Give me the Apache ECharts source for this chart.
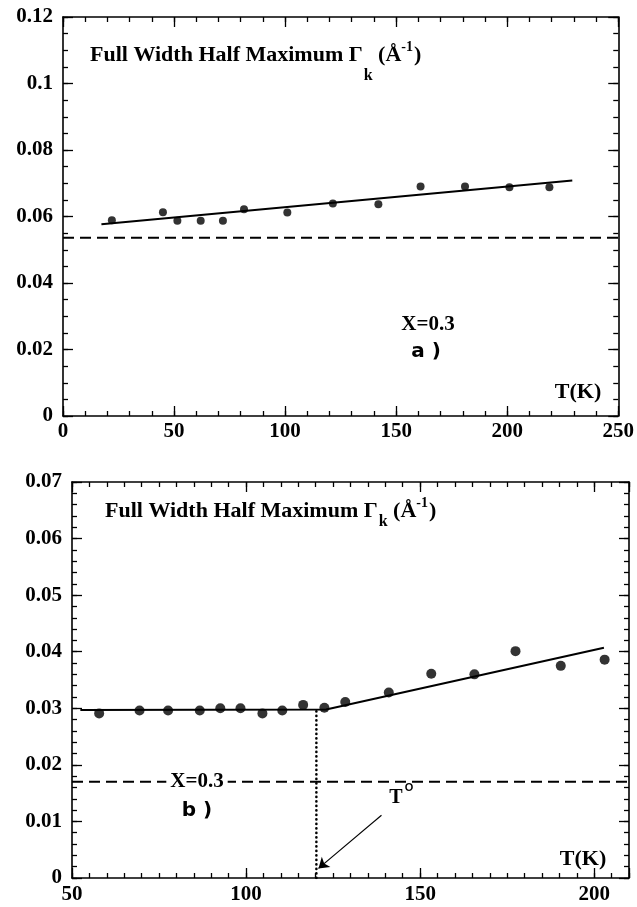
<!DOCTYPE html>
<html>
<head>
<meta charset="utf-8">
<script src="https://cdn.jsdelivr.net/npm/echarts@6/dist/echarts.min.js"></script>
<style>
html,body{margin:0;padding:0;background:#fff;}
#c{width:637px;height:907px;}
</style>
</head>
<body>
<div id="c"></div>
<script>
// ---- Data ----
// Panel a)
const topT = [22, 45, 51.5, 62, 72, 81.5, 101, 121.5, 142, 161, 181, 201, 219];
const topW = [0.0589, 0.0613, 0.0587, 0.0587, 0.0587, 0.0622, 0.0612, 0.0639, 0.0637, 0.0690, 0.0690, 0.0688, 0.0688];
const topFitT = [17.3, 229.3];
const topFitW = [0.0577, 0.0708];
const topRefW = 0.0536;
const topXRange = [0, 250];
const topYRange = [0, 0.12];
// Panel b)
const botT = [57.8, 69.4, 77.6, 86.7, 92.6, 98.4, 104.7, 110.4, 116.4, 122.5, 128.5, 141, 153.2, 165.6, 177.4, 190.4, 203];
const botW = [0.0291, 0.0296, 0.0296, 0.0296, 0.0300, 0.0300, 0.0291, 0.0296, 0.0306, 0.0301, 0.0311, 0.0328, 0.0361, 0.0360, 0.0401, 0.0375, 0.0386];
const botFitT = [52.4, 123, 202.8];
const botFitW = [0.0297, 0.0298, 0.0407];
const botRefW = 0.0170;
const botXRange = [50, 210];
const botYRange = [0, 0.07];
const T0 = 120.2;
const T0W = 0.0298;
const arrowFrom = [138.9, 0.0111];
const arrowTo = [120.8, 0.0017];
// Texts
const titleMain = 'Full Width Half Maximum Γ';
const titleSub = 'k';
const titleOpen = ' (Å';
const titleSup = '-1';
const titleClose = ')';
const xLabel = 'T(K)';
const compLabel = 'X=0.3';
const panelA = 'a )';
const panelB = 'b )';

const zip = (a, b) => a.map((v, i) => [v, b[i]]);
const SERIF = '"Liberation Serif", "Times New Roman", serif';

const xAxes = [], yAxes = [];
const tickStyle = {color: '#000', width: 1.3};
function fmtY(v) { return v === 0 ? '0' : String(parseFloat(v.toFixed(4))); }

function addAxis(list, grid, pos, range, major, minor, label) {
  const base = {type: 'value', gridIndex: grid, position: pos, min: range[0], max: range[1],
    splitLine: {show: false}, scale: false};
  const idx = list.length;
  list.push(Object.assign({}, base, {
    interval: major,
    axisLine: {show: true, onZero: false, lineStyle: {color: '#000', width: 1.6}},
    axisTick: {show: true, inside: true, length: 10, lineStyle: tickStyle},
    axisLabel: label ? Object.assign({show: true, color: '#000', fontWeight: 'bold', fontFamily: SERIF, fontSize: 21}, label) : {show: false}
  }));
  list.push(Object.assign({}, base, {
    interval: minor,
    axisLine: {show: false, onZero: false},
    axisTick: {show: true, inside: true, length: 5, lineStyle: tickStyle},
    axisLabel: {show: false}
  }));
  return idx;
}

// Panel a axes
const ax0 = addAxis(xAxes, 0, 'bottom', topXRange, 50, 10, {margin: 5, formatter: v => String(v)});
addAxis(xAxes, 0, 'top', topXRange, 50, 10, null);
const ay0 = addAxis(yAxes, 0, 'left', topYRange, 0.02, 0.005, {margin: 10, formatter: fmtY});
addAxis(yAxes, 0, 'right', topYRange, 0.02, 0.005, null);
// Panel b axes
const ax1 = addAxis(xAxes, 1, 'bottom', botXRange, 50, 5, {margin: 6, formatter: v => (v % 50 === 0 ? String(v) : '')});
addAxis(xAxes, 1, 'top', botXRange, 50, 5, null);
const ay1 = addAxis(yAxes, 1, 'left', botYRange, 0.01, 0.002, {margin: 10, formatter: fmtY});
addAxis(yAxes, 1, 'right', botYRange, 0.01, 0.002, null);

const black = '#000';
const series = [
  {type: 'line', xAxisIndex: ax0, yAxisIndex: ay0, data: zip([topXRange[0], topXRange[1]], [topRefW, topRefW]),
    symbol: 'none', lineStyle: {color: black, width: 2, type: [11, 6]}},
  {type: 'line', xAxisIndex: ax0, yAxisIndex: ay0, data: zip(topFitT, topFitW),
    symbol: 'none', lineStyle: {color: black, width: 2}},
  {type: 'scatter', xAxisIndex: ax0, yAxisIndex: ay0, data: zip(topT, topW),
    symbolSize: 8, itemStyle: {color: black}},
  {type: 'line', xAxisIndex: ax1, yAxisIndex: ay1, data: zip([botXRange[0], botXRange[1]], [botRefW, botRefW]),
    symbol: 'none', lineStyle: {color: black, width: 2, type: [11, 6]}},
  {type: 'line', xAxisIndex: ax1, yAxisIndex: ay1, data: zip([T0, T0], [0, T0W]),
    symbol: 'none', lineStyle: {color: black, width: 2.6, type: [0.1, 4.4], cap: 'round'},
    markLine: {silent: true, animation: false, symbol: ['none', 'arrow'], symbolSize: 10,
      label: {show: false}, lineStyle: {color: black, width: 1.1, type: 'solid'},
      data: [[{coord: arrowFrom}, {coord: arrowTo}]]}},
  {type: 'line', xAxisIndex: ax1, yAxisIndex: ay1, data: zip(botFitT, botFitW),
    symbol: 'none', lineStyle: {color: black, width: 2}},
  {type: 'scatter', xAxisIndex: ax1, yAxisIndex: ay1, data: zip(botT, botW),
    symbolSize: 10, itemStyle: {color: black}}
];

function titleEl(x, y, subPad, supPad) {
  return {type: 'text', x: x, y: y, z: 100, style: {
    text: '{m|' + titleMain + '}{s|' + titleSub + '}{m|' + titleOpen + '}{p|' + titleSup + '}{m|' + titleClose + '}',
    align: 'left', verticalAlign: 'middle', fill: black,
    rich: {
      m: {fontSize: 22, fontWeight: 'bold', fontFamily: SERIF, verticalAlign: 'middle', fill: black},
      s: {fontSize: 16, fontWeight: 'bold', fontFamily: SERIF, verticalAlign: 'middle', padding: [subPad, 0, 0, 1], fill: black},
      p: {fontSize: 14, fontWeight: 'bold', fontFamily: SERIF, verticalAlign: 'middle', padding: [0, 1, supPad, 0], fill: black}
    }
  }};
}
function txt(x, y, text, font, extra) {
  return {type: 'text', x: x, y: y, z: 100, style: Object.assign({text: text, font: font, fill: black,
    align: 'center', verticalAlign: 'middle'}, extra || {})};
}
const serifB = s => 'bold ' + s + 'px ' + SERIF;
const sansB = s => 'bold ' + s + 'px "DejaVu Sans", sans-serif';

const graphic = [
  titleEl(90, 55, 42, 16),
  titleEl(105, 511, 22, 16),
  txt(428, 325, compLabel, serifB(21)),
  txt(426, 352, panelA, sansB(20)),
  txt(578, 392, xLabel, serifB(22)),
  txt(197, 782, compLabel, serifB(21), {backgroundColor: '#fff', padding: [0, 4]}),
  txt(197, 811, panelB, sansB(20)),
  txt(396, 798, 'T', serifB(20)),
  txt(409, 788, 'O', 'bold 11px "Liberation Sans", sans-serif'),
  txt(583, 859, xLabel, serifB(22))
];

const chart = echarts.init(document.getElementById('c'), null, {renderer: 'canvas'});
chart.setOption({
  animation: false,
  backgroundColor: '#fff',
  grid: [
    {left: 63, top: 17, width: 557, height: 399},
    {left: 72, top: 482, width: 557, height: 396}
  ],
  xAxis: xAxes,
  yAxis: yAxes,
  series: series,
  graphic: graphic
});
</script>
</body>
</html>
